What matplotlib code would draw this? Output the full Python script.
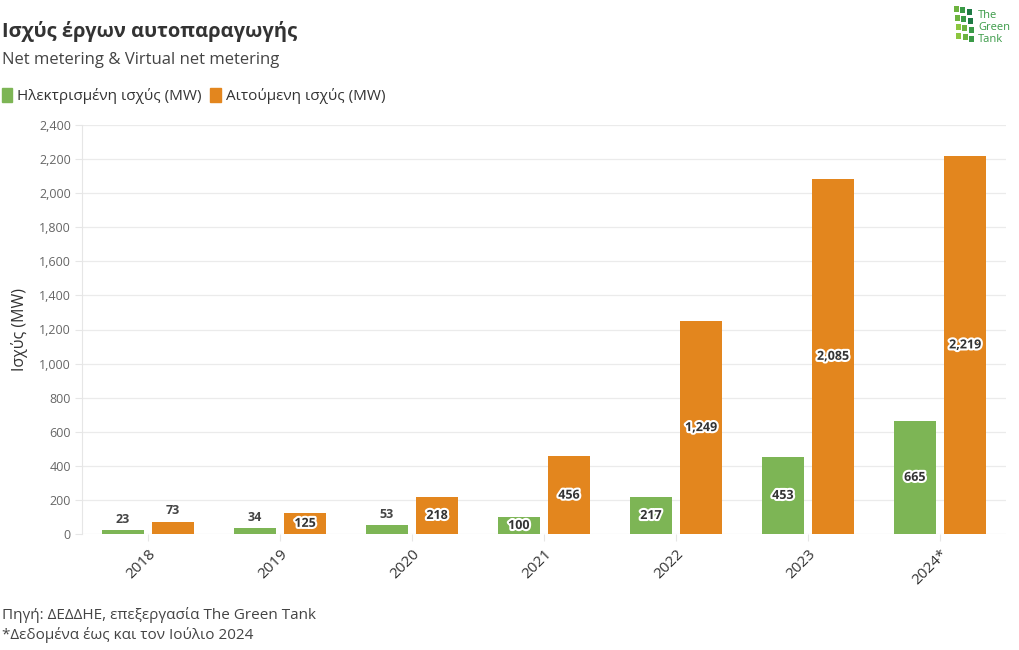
import matplotlib
matplotlib.use("Agg")
import matplotlib.pyplot as plt
import matplotlib.patheffects as pe
from matplotlib.patches import Patch, FancyBboxPatch
from matplotlib.ticker import FuncFormatter, MultipleLocator
import numpy as np

plt.rcParams['font.family'] = ['Open Sans', 'DejaVu Sans']

years = ["2018", "2019", "2020", "2021", "2022", "2023", "2024*"]
electrified = [23, 34, 53, 100, 217, 453, 665]
requested = [73, 125, 218, 456, 1249, 2085, 2219]
series_names = ["Ηλεκτρισμένη ισχύς (MW)", "Αιτούμενη ισχύς (MW)"]
colors = ["#7db555", "#e3861e"]

W, H = 1020, 650
fig = plt.figure(figsize=(W / 100, H / 100), dpi=100)
ax = fig.add_axes([82 / W, (H - 534) / H, (1006 - 82) / W, (534 - 125) / H])

x = np.arange(len(years))
bw = 0.32
off = 0.19
ax.bar(x - off, electrified, bw, color=colors[0], zorder=3)
ax.bar(x + off, requested, bw, color=colors[1], zorder=3)

ax.set_xlim(-0.5, len(years) - 0.5)
ax.set_ylim(0, 2400)
ax.yaxis.set_major_locator(MultipleLocator(200))
ax.yaxis.set_major_formatter(FuncFormatter(lambda v, p: f"{int(v):,}"))
ax.set_xticks(x)
ax.set_xticklabels(years, rotation=45, ha="right", rotation_mode="anchor",
                   fontsize=11, color="#333333")
ax.tick_params(axis="x", length=5, color="#e6e6e6", pad=4)
ax.tick_params(axis="y", length=5, color="#e6e6e6", labelsize=9, labelcolor="#666666", pad=3)
ax.grid(True, axis="y", color="#ebebeb", linewidth=0.9, zorder=0)
for s in ["top", "right", "bottom"]:
    ax.spines[s].set_visible(False)
ax.spines["left"].set_color("#e6e6e6")
ax.set_axisbelow(True)
ax.set_ylabel("Ισχύς (MW)", fontsize=11.5, color="#333333", labelpad=8)

px_per_unit = (534 - 125) / 2400.0
halo = [pe.withStroke(linewidth=3, foreground="white")]
for vals, dx in ((electrified, -off), (requested, off)):
    for i, v in enumerate(vals):
        label = f"{v:,}"
        if v * px_per_unit >= 16:
            ax.text(i + dx, v / 2, label, ha="center", va="center", fontsize=9,
                    fontweight="bold", color="#333333", path_effects=halo, zorder=4)
        else:
            ax.text(i + dx, v + 25, label, ha="center", va="bottom", fontsize=9,
                    fontweight="bold", color="#444444", zorder=4)

fig.text(2 / W, 1 - 32 / H, "Ισχύς έργων αυτοπαραγωγής", fontsize=14.5,
         fontweight="bold", color="#333333", va="center")
fig.text(2 / W, 1 - 60 / H, "Net metering & Virtual net metering", fontsize=12,
         color="#444444", va="center")

handles = [Patch(facecolor=c, edgecolor=c) for c in colors]
fig.legend(handles, series_names, loc="center left", bbox_to_anchor=(-0.012, 1 - 96 / H),
           frameon=False, ncol=2, fontsize=11, handlelength=0.7, handleheight=1.0,
           handletextpad=0.3, columnspacing=0.6, labelcolor="#333333")

fig.text(2 / W, 1 - 615 / H, "Πηγή: ΔΕΔΔΗΕ, επεξεργασία The Green Tank", fontsize=11,
         color="#444444", va="center")
fig.text(2 / W, 1 - 635 / H, "*Δεδομένα έως και τον Ιούλιο 2024", fontsize=11,
         color="#444444", va="center")

# logo
lax = fig.add_axes([952 / W, 1 - 50 / H, 64 / W, 46 / H])
lax.set_xlim(0, 64)
lax.set_ylim(0, 46)
lax.axis("off")
greens = ["#8cc63f", "#6db33f", "#3a9a47", "#1f7a45"]
for r in range(4):
    for c in range(3):
        xx = 2 + c * 6.5 + r * 0.8
        yy = 38 - r * 9 - c * 1.5
        lax.add_patch(FancyBboxPatch((xx, yy), 5, 6, boxstyle="square,pad=0",
                                     color=greens[min(c + (3 - r) // 2, 3)], lw=0))
lax.text(26, 34, "The", fontsize=8, color="#3a9a47", va="center")
lax.text(26, 22, "Green", fontsize=8, color="#3a9a47", va="center")
lax.text(26, 10, "Tank", fontsize=8, color="#3a9a47", va="center")

fig.savefig("out.png", dpi=100, facecolor="white")
